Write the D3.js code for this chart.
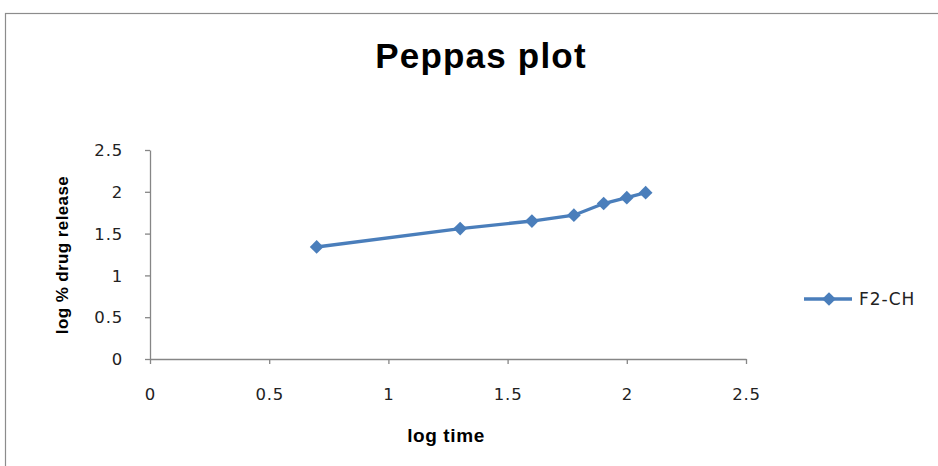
<!DOCTYPE html>
<html><head><meta charset="utf-8">
<script src="https://cdn.jsdelivr.net/npm/d3@7"></script>
<style>body{margin:0;background:#fff}svg{display:block}</style>
</head><body>
<svg id="c" width="938" height="466"></svg>
<script>
const seriesName = "F2-CH";
const logTime = [0.699, 1.301, 1.602, 1.778, 1.903, 2.0, 2.079];
const logRelease = [1.34, 1.56, 1.65, 1.72, 1.86, 1.93, 1.99];
const xTicks = [0, 0.5, 1, 1.5, 2, 2.5];
const yTicks = [0, 0.5, 1, 1.5, 2, 2.5];

const svg = d3.select("#c");
const col = "#4a7ebb";
svg.append("rect").attr("x",5.5).attr("y",13.5).attr("width",940).attr("height",470)
  .attr("fill","#fff").attr("stroke","#8c8c8c").attr("stroke-width",1.2);

const x = d3.scaleLinear().domain([0,2.5]).range([150,746]);
const y = d3.scaleLinear().domain([0,2.5]).range([359,150]);

const tickFont = "'DejaVu Sans', Verdana, sans-serif";
const gx = svg.append("g").attr("transform","translate(0,359)")
  .call(d3.axisBottom(x).tickValues(xTicks).tickFormat(d3.format("")).tickSizeInner(5).tickSizeOuter(0));
gx.select(".domain").attr("stroke","#868686").attr("stroke-width",1.3);
gx.selectAll(".tick line").attr("stroke","#868686").attr("stroke-width",1.3);
gx.selectAll("text").attr("dy",0).attr("y",41).attr("font-family",tickFont).attr("font-size",16.5)
  .attr("letter-spacing",0.8).attr("fill","#222");

const gy = svg.append("g").attr("transform","translate(150,0)")
  .call(d3.axisLeft(y).tickValues(yTicks).tickFormat(d3.format("")).tickSizeInner(5).tickSizeOuter(0));
gy.select(".domain").attr("stroke","#868686").attr("stroke-width",1.3);
gy.selectAll(".tick line").attr("stroke","#868686").attr("stroke-width",1.3);
gy.selectAll("text").attr("x",-27).attr("dy","0.35em").attr("font-family",tickFont).attr("font-size",16.5)
  .attr("letter-spacing",0.8).attr("fill","#222");

const pts = logTime.map((t,i)=>[t,logRelease[i]]);
svg.append("path").datum(pts)
  .attr("d", d3.line().x(d=>x(d[0])).y(d=>y(d[1])))
  .attr("fill","none").attr("stroke",col).attr("stroke-width",3.4);
const diamond = d3.symbol().type(d3.symbolDiamond2).size(120);
svg.selectAll(".m").data(pts).join("path")
  .attr("transform", d=>`translate(${x(d[0])},${y(d[1])})`)
  .attr("d", diamond).attr("fill",col);

svg.append("text").attr("x",481).attr("y",68).attr("text-anchor","middle")
  .attr("font-family","'Liberation Sans', Arial, sans-serif").attr("font-weight","bold")
  .attr("font-size",35).attr("letter-spacing",1.2).attr("fill","#000").text("Peppas plot");

svg.append("text").attr("transform","translate(68,255) rotate(-90)").attr("text-anchor","middle")
  .attr("font-family","'Liberation Sans', Arial, sans-serif").attr("font-weight","bold")
  .attr("font-size",17).attr("letter-spacing",0.4).attr("fill","#000").text("log % drug release");

svg.append("text").attr("x",446).attr("y",442).attr("text-anchor","middle")
  .attr("font-family","'Liberation Sans', Arial, sans-serif").attr("font-weight","bold")
  .attr("font-size",19).attr("letter-spacing",0.6).attr("fill","#000").text("log time");

const lg = svg.append("g");
lg.append("line").attr("x1",804).attr("x2",852).attr("y1",299).attr("y2",299)
  .attr("stroke",col).attr("stroke-width",3.4);
lg.append("path").attr("transform","translate(829,299)").attr("d",diamond).attr("fill",col);
lg.append("text").attr("x",859).attr("y",299).attr("dy","0.35em")
  .attr("font-family",tickFont).attr("font-size",17).attr("letter-spacing",1).attr("fill","#222").text(seriesName);
</script>
</body></html>
